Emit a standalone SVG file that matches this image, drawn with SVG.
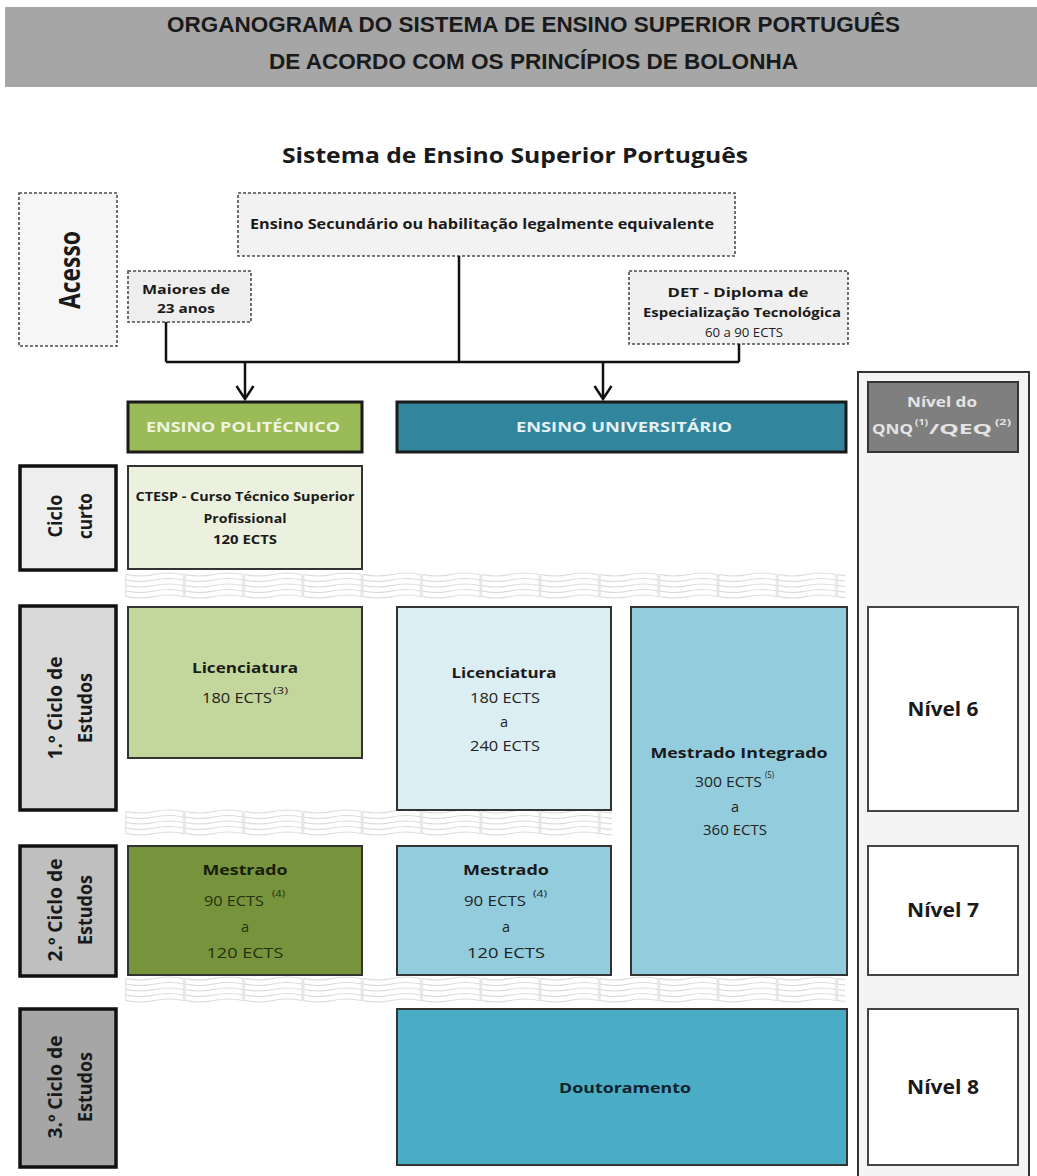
<svg xmlns="http://www.w3.org/2000/svg" width="1037" height="1176" viewBox="0 0 1037 1176">
<style>
.b{font-family:'Open Sans','Liberation Sans',sans-serif;font-weight:700;fill:#1a1a1a}
.r{font-family:'Open Sans','Liberation Sans',sans-serif;font-weight:400;fill:#222222}
.t{font-family:'Liberation Sans Narrow','Liberation Sans',sans-serif;font-weight:700;font-size:22px;fill:#1a1a1a}
.dash{stroke:#4d4d4d;stroke-width:1.6;stroke-dasharray:3 2}
.lab{stroke:#111;stroke-width:3.5}
.box{stroke:#333;stroke-width:2}
.hdr{stroke:#1a1a1a;stroke-width:3}
.con{fill:none;stroke:#111;stroke-width:2.5}
</style>
<defs>
<marker id="arr" markerUnits="userSpaceOnUse" markerWidth="24" markerHeight="24" refX="20" refY="12" viewBox="0 0 24 24" orient="auto">
<path d="M7,3.5 L20,12 L7,20.5" fill="none" stroke="#111" stroke-width="2.5"/>
</marker>
<pattern id="wave" patternUnits="userSpaceOnUse" width="59.3" height="28">
<g fill="none" stroke="#dadada" stroke-width="1">
<path d="M1,2.5 Q15.3,5.5 29.6,2.5 T58.3,2.5 M1,8 Q15.3,11 29.6,8 T58.3,8 M1,13.5 Q15.3,16.5 29.6,13.5 T58.3,13.5 M1,19 Q15.3,22 29.6,19 T58.3,19 M1,24.5 Q15.3,27.5 29.6,24.5 T58.3,24.5"/>
<path d="M0.8,2.5 V25 M58.5,2.5 V25"/>
</g>
</pattern>
</defs>

<g id="title">
<rect x="5" y="7" width="1032" height="80" fill="#a6a6a6"/>
<text class="t" x="533.5" y="32" text-anchor="middle" textLength="733" lengthAdjust="spacingAndGlyphs">ORGANOGRAMA DO SISTEMA DE ENSINO SUPERIOR PORTUGUÊS</text>
<text class="t" x="533.5" y="69" text-anchor="middle" textLength="529" lengthAdjust="spacingAndGlyphs">DE ACORDO COM OS PRINCÍPIOS DE BOLONHA</text>
</g>

<g id="subtitle">
<text class="b" x="515" y="163" font-size="21" text-anchor="middle" textLength="466" lengthAdjust="spacingAndGlyphs">Sistema de Ensino Superior Português</text>
</g>

<g id="bands">
<g transform="translate(125,572)"><rect width="720" height="28" fill="url(#wave)"/></g>
<g transform="translate(125,809)"><rect width="487" height="28" fill="url(#wave)"/></g>
<g transform="translate(125,976)"><rect width="720" height="28" fill="url(#wave)"/></g>
</g>

<g id="niveis-col">
<rect x="858" y="372" width="171" height="820" fill="#f4f4f4" stroke="#333" stroke-width="2"/>
</g>

<g id="acesso">
<rect x="19" y="193" width="98" height="153" fill="#f6f6f6" class="dash"/>
<text class="b" font-size="28" transform="translate(80,270) rotate(-90)" text-anchor="middle" textLength="78" lengthAdjust="spacingAndGlyphs">Acesso</text>
</g>

<g id="secundario">
<rect x="238" y="193" width="497" height="63" fill="#f2f2f2" class="dash"/>
<text class="b" font-size="13.5" x="482" y="229" text-anchor="middle" textLength="464" lengthAdjust="spacingAndGlyphs">Ensino Secundário ou habilitação legalmente equivalente</text>
</g>

<g id="maiores23">
<rect x="128" y="271" width="123" height="51" fill="#eeeeee" class="dash"/>
<text class="b" font-size="12.5" x="186" y="294" text-anchor="middle" textLength="88" lengthAdjust="spacingAndGlyphs">Maiores de</text>
<text class="b" font-size="12.5" x="186" y="313" text-anchor="middle" textLength="58" lengthAdjust="spacingAndGlyphs">23 anos</text>
</g>

<g id="det">
<rect x="629" y="271" width="219" height="73" fill="#f0f0f0" class="dash"/>
<text class="b" font-size="12.5" x="738" y="297" text-anchor="middle" textLength="141" lengthAdjust="spacingAndGlyphs">DET - Diploma de</text>
<text class="b" font-size="12.5" x="742" y="317" text-anchor="middle" textLength="198" lengthAdjust="spacingAndGlyphs">Especialização Tecnológica</text>
<text class="r" font-size="13" x="744" y="337" text-anchor="middle" textLength="78" lengthAdjust="spacingAndGlyphs">60 a 90 ECTS</text>
</g>

<g id="connectors">
<path class="con" d="M166,322 V362 M459,256 V362 M739,344 V362 M166,362 H739"/>
<path class="con" d="M245,362 V399" marker-end="url(#arr)"/>
<path class="con" d="M603,362 V399" marker-end="url(#arr)"/>
</g>

<g id="politecnico">
<rect x="128" y="402" width="234" height="50" fill="#9bbb59" class="hdr"/>
<text class="b" font-size="14" x="243" y="432" text-anchor="middle" textLength="194" lengthAdjust="spacingAndGlyphs" style="fill:#eef4e2">ENSINO POLITÉCNICO</text>
</g>

<g id="universitario">
<rect x="397" y="402" width="449" height="50" fill="#31859c" class="hdr"/>
<text class="b" font-size="14" x="624" y="432" text-anchor="middle" textLength="216" lengthAdjust="spacingAndGlyphs" style="fill:#e3f1f6">ENSINO UNIVERSITÁRIO</text>
</g>

<g id="nivel-qnq">
<rect x="868" y="382" width="150" height="70" fill="#7f7f7f" stroke="#333" stroke-width="2"/>
<text class="b" font-size="15" x="942" y="407" text-anchor="middle" textLength="70" lengthAdjust="spacingAndGlyphs" style="fill:#e4e4e4">Nível do</text>
<text class="b" font-size="15" x="872" y="434" textLength="41" lengthAdjust="spacingAndGlyphs" style="fill:#e4e4e4">QNQ</text>
<text class="b" font-size="8.5" x="915" y="425" textLength="13" lengthAdjust="spacingAndGlyphs" style="fill:#e4e4e4">(1)</text>
<text class="b" font-size="15" x="929" y="434" textLength="63" lengthAdjust="spacingAndGlyphs" style="fill:#e4e4e4">/QEQ</text>
<text class="b" font-size="8.5" x="995" y="425" textLength="16" lengthAdjust="spacingAndGlyphs" style="fill:#e4e4e4">(2)</text>
</g>

<g id="ciclo-curto">
<rect x="20" y="466" width="96" height="104" fill="#eeeeee" class="lab"/>
<text class="b" font-size="19" transform="translate(62,516) rotate(-90)" text-anchor="middle" textLength="43" lengthAdjust="spacingAndGlyphs">Ciclo</text>
<text class="b" font-size="19" transform="translate(92,516) rotate(-90)" text-anchor="middle" textLength="46" lengthAdjust="spacingAndGlyphs">curto</text>
</g>

<g id="ctesp">
<rect x="128" y="466" width="234" height="103" fill="#ebf1de" class="box"/>
<text class="b" font-size="13" x="245" y="501" text-anchor="middle" textLength="219" lengthAdjust="spacingAndGlyphs">CTESP - Curso Técnico Superior</text>
<text class="b" font-size="13" x="245" y="523" text-anchor="middle" textLength="83" lengthAdjust="spacingAndGlyphs">Profissional</text>
<text class="b" font-size="13" x="245" y="544" text-anchor="middle" textLength="64" lengthAdjust="spacingAndGlyphs">120 ECTS</text>
</g>

<g id="ciclo1">
<rect x="20" y="606" width="96" height="204" fill="#d9d9d9" class="lab"/>
<text class="b" font-size="19" transform="translate(62,708) rotate(-90)" text-anchor="middle" textLength="103" lengthAdjust="spacingAndGlyphs">1.º Ciclo de</text>
<text class="b" font-size="19" transform="translate(92,708) rotate(-90)" text-anchor="middle" textLength="70" lengthAdjust="spacingAndGlyphs">Estudos</text>
</g>

<g id="licenciatura-poli">
<rect x="128" y="607" width="234" height="151" fill="#c3d69b" class="box"/>
<text class="b" font-size="14.5" x="245" y="673" text-anchor="middle" textLength="106" lengthAdjust="spacingAndGlyphs">Licenciatura</text>
<text class="r" font-size="14.5" x="202" y="703" textLength="70" lengthAdjust="spacingAndGlyphs">180 ECTS</text>
<text class="r" font-size="9" x="273" y="694" textLength="15" lengthAdjust="spacingAndGlyphs">(3)</text>
</g>

<g id="licenciatura-univ">
<rect x="397" y="607" width="214" height="203" fill="#dbeef3" class="box"/>
<text class="b" font-size="14.5" x="504" y="678" text-anchor="middle" textLength="105" lengthAdjust="spacingAndGlyphs">Licenciatura</text>
<text class="r" font-size="14.5" x="505" y="703" text-anchor="middle" textLength="70" lengthAdjust="spacingAndGlyphs">180 ECTS</text>
<text class="r" font-size="14.5" x="504" y="727" text-anchor="middle">a</text>
<text class="r" font-size="14.5" x="505" y="751" text-anchor="middle" textLength="70" lengthAdjust="spacingAndGlyphs">240 ECTS</text>
</g>

<g id="mestrado-integrado">
<rect x="631" y="607" width="216" height="368" fill="#93cddd" class="box"/>
<text class="b" font-size="14.5" x="739" y="758" text-anchor="middle" textLength="177" lengthAdjust="spacingAndGlyphs">Mestrado Integrado</text>
<text class="r" font-size="14.5" x="695" y="787" textLength="67" lengthAdjust="spacingAndGlyphs">300 ECTS</text>
<text class="r" font-size="8.5" x="765" y="778" textLength="9" lengthAdjust="spacingAndGlyphs">(5)</text>
<text class="r" font-size="14.5" x="735" y="812" text-anchor="middle">a</text>
<text class="r" font-size="14.5" x="735" y="835" text-anchor="middle" textLength="64" lengthAdjust="spacingAndGlyphs">360 ECTS</text>
</g>

<g id="nivel6">
<rect x="868" y="607" width="150" height="204" fill="#ffffff" stroke="#444" stroke-width="2"/>
<text class="b" font-size="19" x="943" y="716" text-anchor="middle" textLength="71" lengthAdjust="spacingAndGlyphs">Nível 6</text>
</g>

<g id="ciclo2">
<rect x="20" y="846" width="96" height="130" fill="#bfbfbf" class="lab"/>
<text class="b" font-size="19" transform="translate(62,910) rotate(-90)" text-anchor="middle" textLength="103" lengthAdjust="spacingAndGlyphs">2.º Ciclo de</text>
<text class="b" font-size="19" transform="translate(92,910) rotate(-90)" text-anchor="middle" textLength="70" lengthAdjust="spacingAndGlyphs">Estudos</text>
</g>

<g id="mestrado-poli">
<rect x="128" y="846" width="234" height="129" fill="#77933c" class="box"/>
<text class="b" font-size="14.5" x="245" y="875" text-anchor="middle" textLength="85" lengthAdjust="spacingAndGlyphs" style="fill:#16200a">Mestrado</text>
<text class="r" font-size="14.5" x="204" y="906" textLength="60" lengthAdjust="spacingAndGlyphs" style="fill:#25320f">90 ECTS</text>
<text class="r" font-size="9" x="272" y="897" textLength="13" lengthAdjust="spacingAndGlyphs" style="fill:#25320f">(4)</text>
<text class="r" font-size="14.5" x="245" y="932" text-anchor="middle" style="fill:#25320f">a</text>
<text class="r" font-size="14.5" x="245" y="958" text-anchor="middle" textLength="77" lengthAdjust="spacingAndGlyphs" style="fill:#25320f">120 ECTS</text>
</g>

<g id="mestrado-univ">
<rect x="397" y="846" width="214" height="129" fill="#93cddd" class="box"/>
<text class="b" font-size="14.5" x="506" y="875" text-anchor="middle" textLength="86" lengthAdjust="spacingAndGlyphs">Mestrado</text>
<text class="r" font-size="14.5" x="464" y="906" textLength="62" lengthAdjust="spacingAndGlyphs">90 ECTS</text>
<text class="r" font-size="9" x="533" y="897" textLength="14" lengthAdjust="spacingAndGlyphs">(4)</text>
<text class="r" font-size="14.5" x="506" y="932" text-anchor="middle">a</text>
<text class="r" font-size="14.5" x="506" y="958" text-anchor="middle" textLength="78" lengthAdjust="spacingAndGlyphs">120 ECTS</text>
</g>

<g id="nivel7">
<rect x="868" y="846" width="150" height="129" fill="#ffffff" stroke="#444" stroke-width="2"/>
<text class="b" font-size="19" x="943" y="917" text-anchor="middle" textLength="72" lengthAdjust="spacingAndGlyphs">Nível 7</text>
</g>

<g id="ciclo3">
<rect x="20" y="1009" width="96" height="158" fill="#a6a6a6" class="lab"/>
<text class="b" font-size="19" transform="translate(62,1087) rotate(-90)" text-anchor="middle" textLength="103" lengthAdjust="spacingAndGlyphs">3.º Ciclo de</text>
<text class="b" font-size="19" transform="translate(92,1087) rotate(-90)" text-anchor="middle" textLength="70" lengthAdjust="spacingAndGlyphs">Estudos</text>
</g>

<g id="doutoramento">
<rect x="397" y="1009" width="450" height="156" fill="#4bacc6" class="box"/>
<text class="b" font-size="14.5" x="625" y="1093" text-anchor="middle" textLength="132" lengthAdjust="spacingAndGlyphs" style="fill:#10222c">Doutoramento</text>
</g>

<g id="nivel8">
<rect x="868" y="1009" width="150" height="156" fill="#ffffff" stroke="#444" stroke-width="2"/>
<text class="b" font-size="19" x="943" y="1094" text-anchor="middle" textLength="72" lengthAdjust="spacingAndGlyphs">Nível 8</text>
</g>
</svg>
